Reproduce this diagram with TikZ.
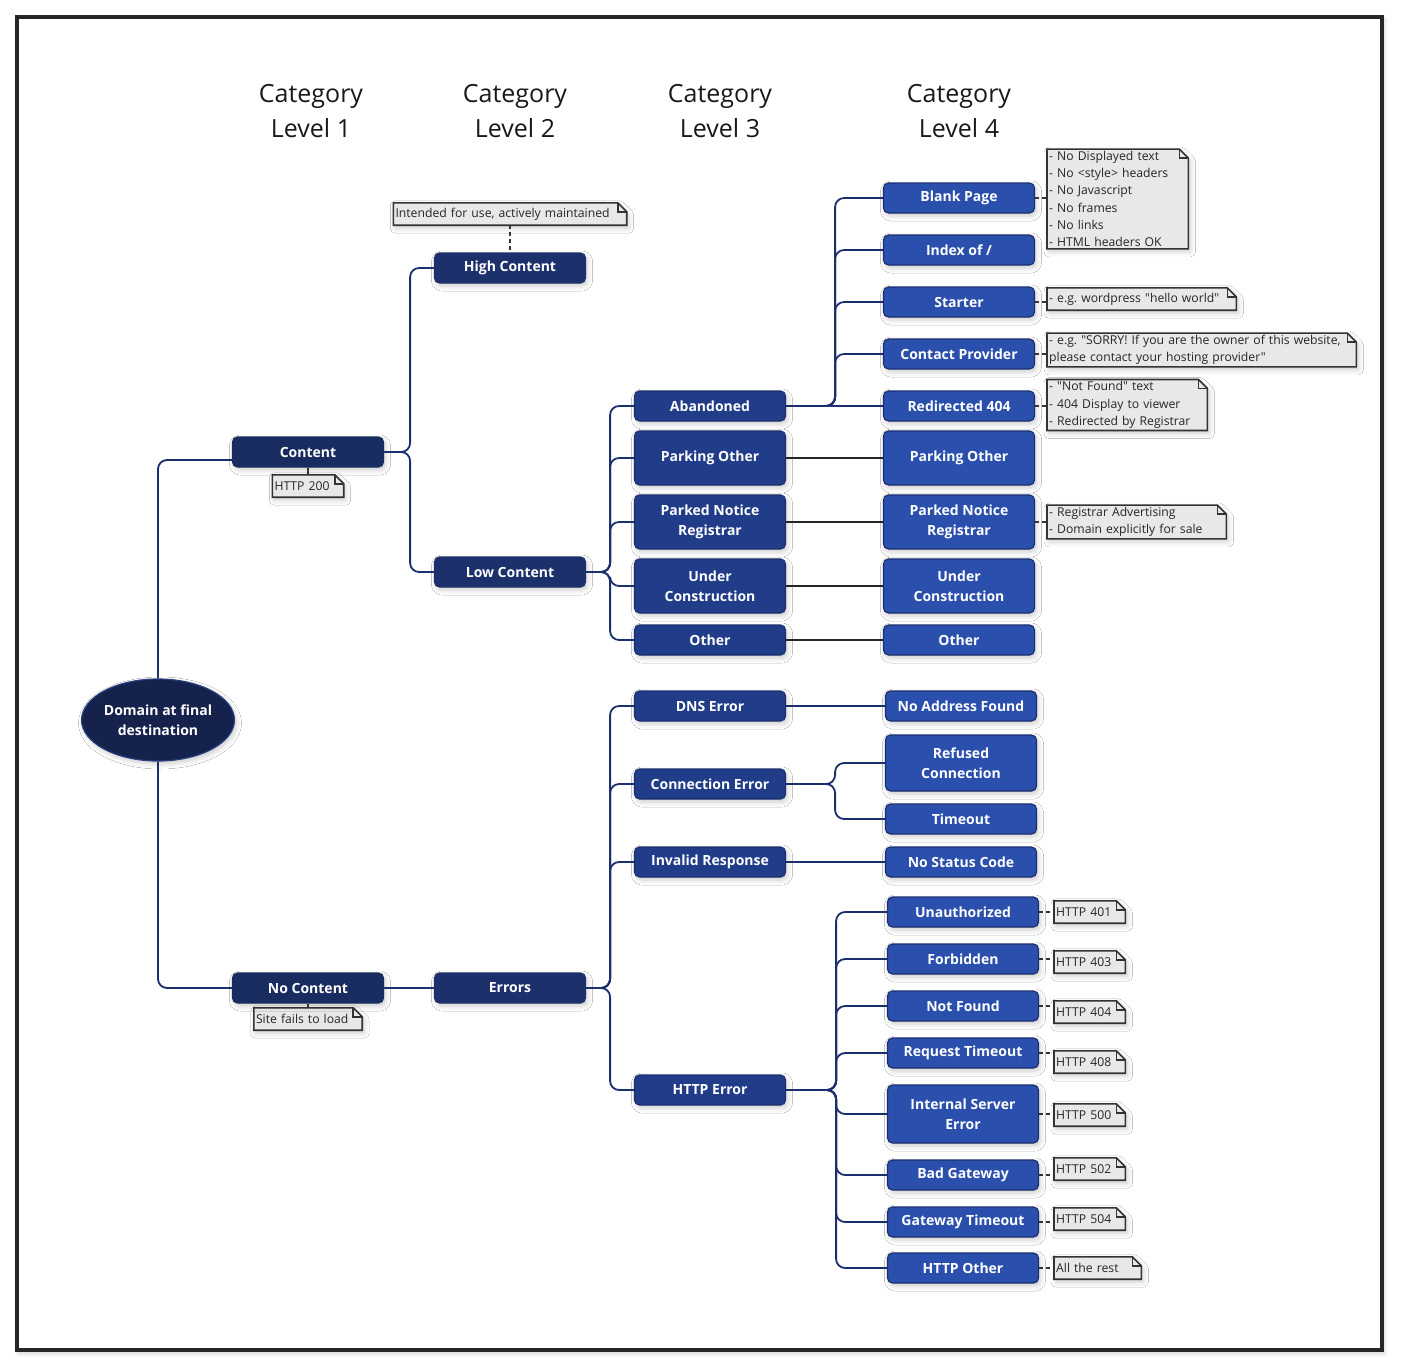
\documentclass[tikz,border=0pt]{standalone}
\usepackage{fontspec}
\setmainfont{Open Sans}[Ligatures=TeXOff]
\usetikzlibrary{shapes.geometric,shadows.blur,backgrounds}
\definecolor{rootblue}{HTML}{15224C}
\definecolor{rootline}{HTML}{2B3F80}
\definecolor{lvlone}{HTML}{192C60}
\definecolor{lvltwo}{HTML}{1C306C}
\definecolor{lvlthree}{HTML}{213D8A}
\definecolor{lvlfour}{HTML}{2A4FAC}
\definecolor{edgeblue}{HTML}{1B2F6E}
\definecolor{notefill}{HTML}{E8E8E8}
\definecolor{noteline}{HTML}{333333}
\newcommand{\dq}{{\char34}}
\frenchspacing
\tikzset{
  softshadow/.style={blur shadow={shadow xshift=2pt, shadow yshift=-3pt, shadow blur radius=5pt, shadow opacity=20}},
  catbox/.style={rounded corners=5pt, draw=edgeblue, line width=1.2pt, text=white,
    font=\fontsize{14}{20}\selectfont\bfseries, align=center, minimum width=151pt,
    minimum height=30pt, inner sep=2pt, softshadow},
  lvlonebox/.style={catbox, fill=lvlone, draw=lvlone},
  lvltwobox/.style={catbox, fill=lvltwo, draw=lvltwo},
  lvlthreebox/.style={catbox, fill=lvlthree},
  lvlfourbox/.style={catbox, fill=lvlfour},
  tall/.style={minimum height=#1pt},
  rootnode/.style={ellipse, fill=rootblue, draw=rootline, line width=1.2pt, text=white,
    font=\fontsize{14}{20}\selectfont\bfseries, align=center, inner sep=0pt,
    minimum width=152pt, minimum height=82pt, softshadow},
  header/.style={font=\fontsize{25}{35}\selectfont, align=center, text=black!90},
  notebox/.style={font=\fontsize{12.2}{17.2}\selectfont, text=black!85, align=left,
    inner xsep=2pt, inner ysep=2pt, minimum height=22pt, text width=#1pt},
  noteshape/.style={fill=notefill, draw=noteline, line width=1.6pt, softshadow},
  link/.style={draw=edgeblue, line width=1.8pt, rounded corners=9pt},
  plainlink/.style={draw=black!85, line width=1.8pt},
  notelink/.style={draw=noteline, line width=1.5pt, dash pattern=on 4pt off 3pt},
  notestem/.style={draw=noteline, line width=1.5pt}
}
\begin{document}
\frenchspacing
\begin{tikzpicture}[x=1pt, y=-1pt]
\useasboundingbox (0,0) rectangle (1402,1370);
% headers
\node[header] (h1) at (311,111) {Category\\Level 1};
\node[header] (h2) at (515,111) {Category\\Level 2};
\node[header] (h3) at (720,111) {Category\\Level 3};
\node[header] (h4) at (959,111) {Category\\Level 4};
% root and level 1, 2
\node[rootnode] (root) at (158,720) {Domain at final\\destination};
\node[lvlonebox] (content) at (308,452) {Content};
\node[lvlonebox] (nocontent) at (308,988) {No Content};
\node[lvltwobox] (high) at (510,268) {High Content};
\node[lvltwobox] (low) at (510,572) {Low Content};
\node[lvltwobox] (errors) at (510,988) {Errors};
% level 3
\node[lvlthreebox] (abandoned) at (710,406) {Abandoned};
\node[lvlthreebox, tall=54] (parkother) at (710,458) {Parking Other};
\node[lvlthreebox, tall=54] (parknotice) at (710,522) {Parked Notice\\Registrar};
\node[lvlthreebox, tall=54] (under) at (710,586) {Under\\Construction};
\node[lvlthreebox] (other) at (710,640) {Other};
\node[lvlthreebox] (dns) at (710,706) {DNS Error};
\node[lvlthreebox] (conn) at (710,784) {Connection Error};
\node[lvlthreebox] (invalid) at (710,862) {Invalid Response};
\node[lvlthreebox] (httperr) at (710,1090) {HTTP Error};
% level 4
\node[lvlfourbox] (blank) at (959,198) {Blank Page};
\node[lvlfourbox] (index) at (959,250) {Index of /};
\node[lvlfourbox] (starter) at (959,302) {Starter};
\node[lvlfourbox] (contact) at (959,354) {Contact Provider};
\node[lvlfourbox] (redir) at (959,406) {Redirected 404};
\node[lvlfourbox, tall=54] (parkotherb) at (959,458) {Parking Other};
\node[lvlfourbox, tall=54] (parknoticeb) at (959,522) {Parked Notice\\Registrar};
\node[lvlfourbox, tall=54] (underb) at (959,586) {Under\\Construction};
\node[lvlfourbox] (otherb) at (959,640) {Other};
\node[lvlfourbox] (noaddr) at (961,706) {No Address Found};
\node[lvlfourbox, tall=56] (refused) at (961,763) {Refused\\Connection};
\node[lvlfourbox] (timeout) at (961,819) {Timeout};
\node[lvlfourbox] (nostatus) at (961,862) {No Status Code};
\node[lvlfourbox] (unauth) at (963,912) {Unauthorized};
\node[lvlfourbox] (forbid) at (963,959) {Forbidden};
\node[lvlfourbox] (notfound) at (963,1006) {Not Found};
\node[lvlfourbox] (reqtime) at (963,1053) {Request Timeout};
\node[lvlfourbox, tall=58] (internal) at (963,1114) {Internal Server\\Error};
\node[lvlfourbox] (badgw) at (963,1175) {Bad Gateway};
\node[lvlfourbox] (gwtime) at (963,1222) {Gateway Timeout};
\node[lvlfourbox] (httpother) at (963,1268) {HTTP Other};
% notes
\node[notebox=229] (nintend) at (510,214) {Intended for use, actively maintained};
\node[notebox=67] (n200) at (308,486) {HTTP 200};
\node[notebox=104] (nfail) at (308,1019) {Site fails to load};
\node[notebox=137, anchor=west] (nblank) at (1047,199) {- No Displayed text\\- No <style> headers\\- No Javascript\\- No frames\\- No links\\- HTML headers OK};
\node[notebox=185, anchor=west] (nstart) at (1047,299) {- e.g. wordpress \dq hello world\dq};
\node[notebox=305, anchor=west] (ncontact) at (1047,350) {- e.g. \dq SORRY! If you are the owner of this website,\\please contact your hosting provider\dq};
\node[notebox=156, anchor=west] (nredir) at (1047,405) {- \dq Not Found\dq{} text\\- 404 Display to viewer\\- Redirected by Registrar};
\node[notebox=175, anchor=west] (nparked) at (1047,522) {- Registrar Advertising\\- Domain explicitly for sale};
\node[notebox=67, anchor=west] (n401) at (1054,912) {HTTP 401};
\node[notebox=67, anchor=west] (n403) at (1054,962) {HTTP 403};
\node[notebox=67, anchor=west] (n404) at (1054,1012) {HTTP 404};
\node[notebox=67, anchor=west] (n408) at (1054,1062) {HTTP 408};
\node[notebox=67, anchor=west] (n500) at (1054,1115) {HTTP 500};
\node[notebox=67, anchor=west] (n502) at (1054,1169) {HTTP 502};
\node[notebox=67, anchor=west] (n504) at (1054,1219) {HTTP 504};
\node[notebox=83, anchor=west] (nrest) at (1054,1268) {All the rest};
% connectors
\draw[link] (root.north) |- ([yshift=-8pt]content.west);
\draw[link] (root.south) |- (nocontent.west);
\foreach \c in {high,low}
  \draw[link] (content.east) -- ++(26,0) |- (\c.west);
\draw[link] (nocontent.east) -- (errors.west);
\foreach \c in {abandoned,parkother,parknotice,under,other}
  \draw[link] (low.east) -- ++(24,0) |- (\c.west);
\foreach \c in {dns,conn,invalid,httperr}
  \draw[link] (errors.east) -- ++(24,0) |- (\c.west);
\foreach \c in {blank,index,starter,contact}
  \draw[link] (abandoned.east) -- ++(49,0) |- (\c.west);
\draw[link] (abandoned.east) -- (redir.west);
\foreach \a/\b in {parkother/parkotherb,parknotice/parknoticeb,under/underb,other/otherb}
  \draw[plainlink] (\a.east) -- (\b.west);
\draw[link] (dns.east) -- (noaddr.west);
\draw[link] (invalid.east) -- (nostatus.west);
\foreach \c in {refused,timeout}
  \draw[link] (conn.east) -- ++(49,0) |- (\c.west);
\foreach \c in {unauth,forbid,notfound,reqtime,internal,badgw,gwtime,httpother}
  \draw[link] (httperr.east) -- ++(50,0) |- (\c.west);
% note connectors
\draw[notelink] (nintend.south) -- (high.north);
\draw[notestem] (content.south) -- (n200.north);
\draw[notestem] (nocontent.south) -- (nfail.north);
\foreach \a/\b in {blank/nblank,starter/nstart,contact/ncontact,redir/nredir,parknoticeb/nparked,
    unauth/n401,forbid/n403,notfound/n404,reqtime/n408,internal/n500,badgw/n502,gwtime/n504,httpother/nrest}
  \draw[notelink] (\a.east) -- (\a.east -| \b.west);
% frame and note shapes
\begin{scope}[on background layer]
\draw[line width=3.5pt, draw=black!85, fill=white, softshadow] (17,17) rectangle (1382,1350);
\foreach \n in {nintend,n200,nfail,nblank,nstart,ncontact,nredir,nparked,n401,n403,n404,n408,n500,n502,n504,nrest} {
  \filldraw[noteshape] (\n.south west) -- (\n.north west) -- ([xshift=-9pt]\n.north east)
    -- ([yshift=-9pt]\n.north east) -- (\n.south east) -- cycle;
  \draw[draw=noteline, line width=1.6pt] ([xshift=-9pt]\n.north east) |- ([yshift=-9pt]\n.north east);
}
\end{scope}
\end{tikzpicture}
\end{document}
